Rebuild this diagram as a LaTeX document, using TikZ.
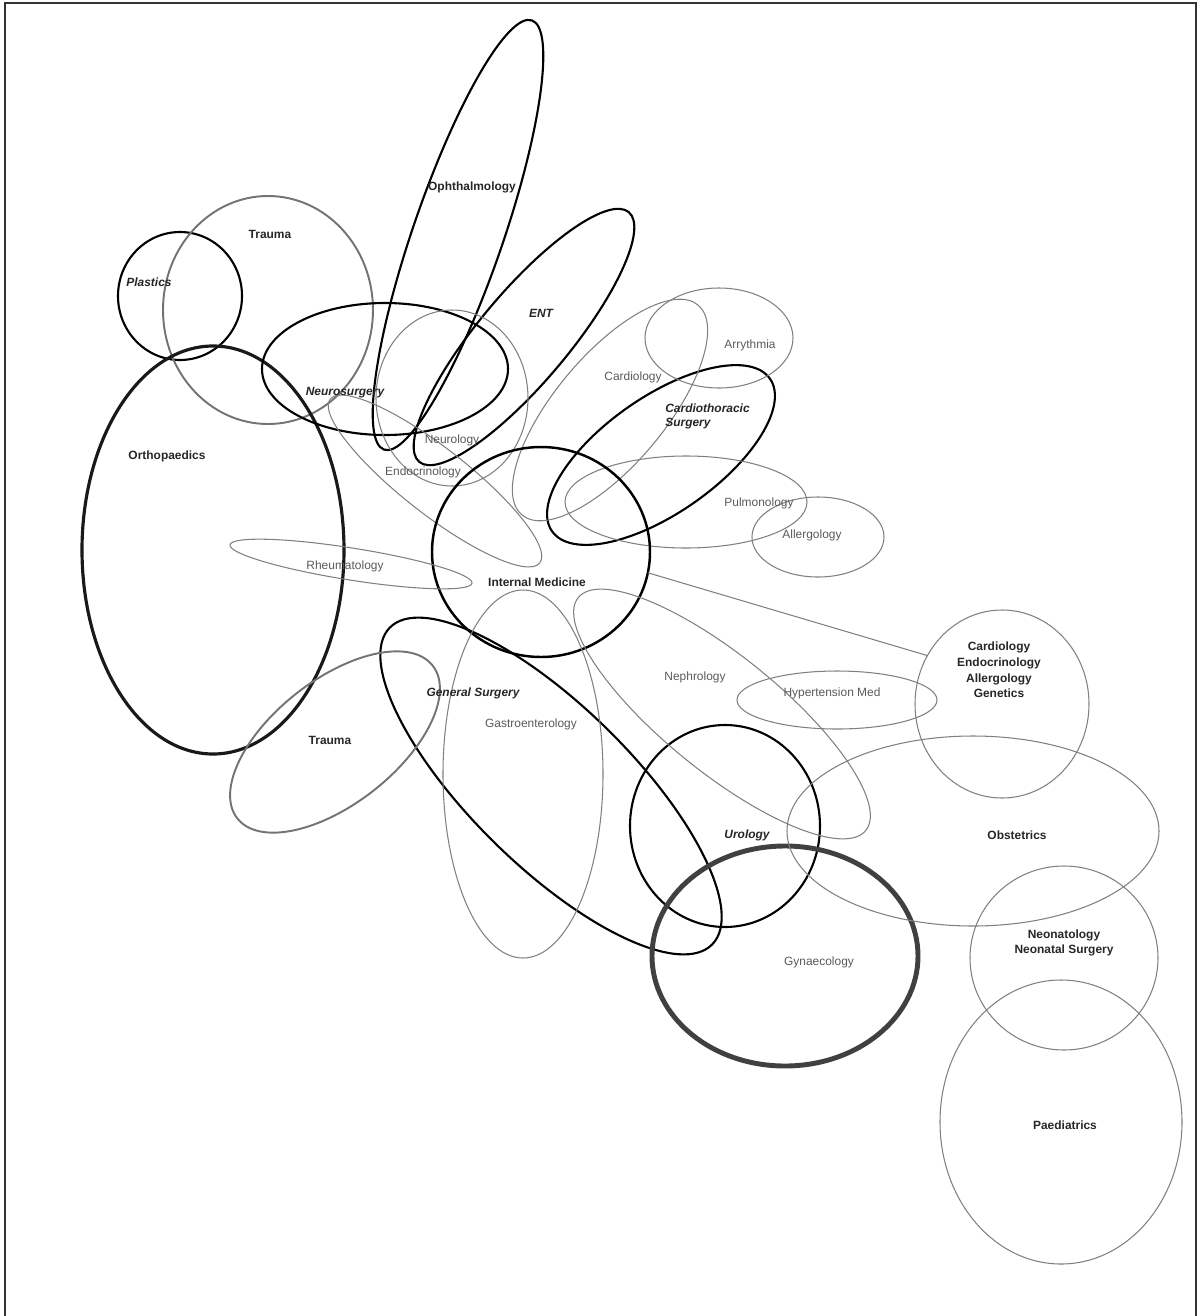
\documentclass[tikz,border=0pt]{standalone}
\usepackage{fontspec}
\setmainfont{Liberation Sans}
\usepackage{tikz}
\usetikzlibrary{shapes.geometric}

\begin{document}
\begin{tikzpicture}[
  x=0.2mm, y=-0.2mm,
  sz/.style 2 args={minimum width=#1*0.2mm,minimum height=#2*0.2mm},
  ring/.style={ellipse,inner sep=0pt,outer sep=0pt},
  thinring/.style={ring,draw=black!50,line width=0.6pt},
  midring/.style={ring,draw=black!55,line width=1.1pt},
  darkring/.style={ring,draw=black,line width=1.2pt},
  imring/.style={ring,draw=black,line width=1.4pt},
  orthring/.style={ring,draw=black!90,line width=1.8pt},
  gynring/.style={ring,draw=black!75,line width=2.8pt},
  lbl/.style={font=\fontsize{6.8}{8}\selectfont,text=black!65,inner sep=0pt},
  lblb/.style={font=\fontsize{6.8}{8}\selectfont\bfseries,text=black!85,inner sep=0pt},
  lbli/.style={font=\fontsize{6.8}{8}\selectfont\bfseries\itshape,text=black!85,inner sep=0pt}
]
  \useasboundingbox (0,0) rectangle (1199,1316);
  \draw[line width=1.1pt,black!80] (5,1316) -- (5,3) -- (1196,3) -- (1196,1316);

  % surgical fields
  \node[darkring,sz={124}{128}] (plast) at (180,296) {};
  \node[midring,sz={210}{228}] (trauA) at (268,310) {};
  \node[orthring,sz={262}{408}] (ortho) at (213,550) {};
  \node[darkring,sz={246}{132}] (nsurg) at (385,369) {};
  \node[darkring,sz={454}{90},rotate=71] (ophth) at (458,235) {};
  \node[darkring,sz={326}{90},rotate=50] (ent) at (524,337) {};
  \node[darkring,sz={266}{116},rotate=35] (cts) at (661,455) {};
  \node[darkring,sz={452}{160},rotate=-44.5] (gsurg) at (551,786) {};
  \node[midring,sz={248}{124},rotate=38] (trauB) at (335,742) {};
  \node[darkring,sz={190}{202}] (uro) at (725,826) {};
  \node[gynring,sz={266}{220}] (gyn) at (785,956) {};

  % medical fields
  \node[thinring,sz={152}{176}] (neuro) at (452,398) {};
  \node[thinring,sz={266}{66},rotate=-38] (endo) at (435,481) {};
  \node[thinring,sz={274}{110},rotate=50] (cardio) at (610,410) {};
  \node[thinring,sz={148}{100}] (arry) at (719,338) {};
  \node[thinring,sz={242}{92}] (pulmo) at (686,502) {};
  \node[thinring,sz={132}{80}] (aller) at (818,537) {};
  \node[imring,sz={218}{210}] (im) at (541,552) {};
  \node[thinring,sz={245}{32},rotate=-9] (rheum) at (351,564) {};
  \node[thinring,sz={370}{116},rotate=-39] (nephro) at (722,714) {};
  \node[thinring,sz={200}{58}] (hyper) at (837,700) {};
  \node[thinring,sz={160}{368}] (gastro) at (523,774) {};
  \node[thinring,sz={174}{188}] (ceag) at (1002,704) {};
  \node[thinring,sz={372}{190}] (obst) at (973,831) {};
  \node[thinring,sz={188}{184}] (neonat) at (1064,958) {};
  \node[thinring,sz={242}{284}] (paed) at (1061,1122) {};

  \draw[black!50,line width=0.6pt] (im.-11) -- (ceag.147);

  % labels
  \node[lbli] (tplast) at (149,282) {Plastics};
  \node[lblb] (ttrauA) at (270,234) {Trauma};
  \node[lblb] (tortho) at (167,456) {Orthopaedics};
  \node[lbli] (tnsurg) at (345,393) {Neurosurgery};
  \node[lblb] (tophth) at (472,187) {Ophthalmology};
  \node[lbli] (tent) at (541,313) {ENT};
  \node[lbl] (tneuro) at (452,440) {Neurology};
  \node[lbl] (tendo) at (423,472) {Endocrinology};
  \node[lbl] (tcardio) at (633,377) {Cardiology};
  \node[lbl] (tarry) at (750,345) {Arrythmia};
  \node[lbli,anchor=west,align=left,font=\fontsize{6.8}{8}\selectfont\bfseries\itshape] (tcts) at (665,416) {Cardiothoracic\\Surgery};
  \node[lbl] (tpulmo) at (759,503) {Pulmonology};
  \node[lbl] (taller) at (812,535) {Allergology};
  \node[lbl] (trheum) at (345,566) {Rheumatology};
  \node[lblb] (tim) at (537,582) {Internal Medicine};
  \node[lbli] (tgsurg) at (473,693) {General Surgery};
  \node[lbl] (tgastro) at (531,724) {Gastroenterology};
  \node[lblb] (ttrauB) at (330,740) {Trauma};
  \node[lbl] (tnephro) at (695,677) {Nephrology};
  \node[lbl] (thyper) at (832,693) {Hypertension Med};
  \node[lblb,align=center,font=\fontsize{6.8}{8.9}\selectfont\bfseries] (tceag) at (999,670) {Cardiology\\Endocrinology\\Allergology\\Genetics};
  \node[lbli] (turo) at (747,835) {Urology};
  \node[lblb] (tobst) at (1017,835) {Obstetrics};
  \node[lblb,align=center,font=\fontsize{6.8}{8.9}\selectfont\bfseries] (tneonat) at (1064,943) {Neonatology\\Neonatal Surgery};
  \node[lbl] (tgyn) at (819,962) {Gynaecology};
  \node[lblb] (tpaed) at (1065,1125) {Paediatrics};
\end{tikzpicture}
\end{document}
